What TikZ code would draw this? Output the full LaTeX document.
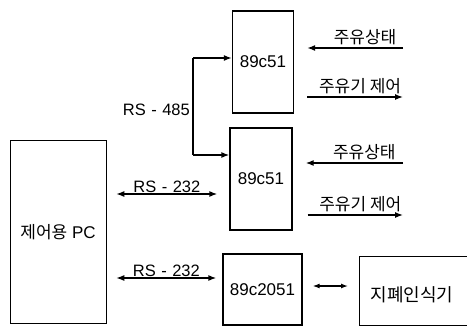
\documentclass[tikz,border=0pt]{standalone}
\usepackage{fontspec}
\setmainfont{Liberation Sans}
\newfontfamily\kr{Noto Sans CJK KR}
\usetikzlibrary{arrows.meta}
\begin{document}
\begin{tikzpicture}[x=1pt,y=-1pt,
  box/.style={draw,line width=1.3pt,inner sep=0pt,font=\fontsize{17}{19}\selectfont},
  conn/.style={line width=1.3pt,-{Latex[length=8pt,width=6pt]}},
  bconn/.style={line width=1.3pt,{Latex[length=8pt,width=6pt]}-{Latex[length=8pt,width=6pt]}},
  lbl/.style={font=\fontsize{16.5}{18}\selectfont,inner sep=1pt},
  klbl/.style={font=\kr\fontsize{17}{19}\selectfont,inner sep=1pt}]
\useasboundingbox (0,0) rectangle (467,327);
\clip (0,0) rectangle (467,327);
% boxes
\node[box,minimum width=61pt,minimum height=102pt] (u1) at (263,62) {89c51};
\node[box,minimum width=62pt,minimum height=102pt] (u2) at (261,179) {89c51};
\node[box,minimum width=96pt,minimum height=183pt,anchor=north west] (pc) at (10,140) {};
\node[font=\fontsize{17}{19}\selectfont] (pct) at (58,232) {{\kr 제어용} PC};
\node[box,minimum width=79pt,minimum height=71pt] (u3) at (262.5,289.5) {89c2051};
\node[box,minimum width=120pt,minimum height=69pt,anchor=north west] (bill) at (359,256) {};
\node[font=\kr\fontsize{18}{20}\selectfont] (billt) at (412,295) {지폐인식기};
% RS-485 bracket
\coordinate (b1) at (193,58);
\coordinate (b2) at (193,155);
\draw[conn] (b1) -- (u1.west |- b1);
\draw[line width=1.3pt] (b1) -- (b2);
\draw[conn] (b2) -- (u2.west |- b2);
\node[lbl,anchor=east] (l485) at (191,110) {RS\,\,-\,\,485};
% RS-232 links
\coordinate (p1) at (pc.east |- 0,194);
\coordinate (p2) at (pc.east |- 0,278);
\draw[bconn] ([xshift=9pt]p1) -- ([xshift=-12pt]u2.west |- p1) node[lbl,midway,above,yshift=0pt] {RS\,\,-\,\,232};
\draw[bconn] ([xshift=9pt]p2) -- ([xshift=-6pt]u3.west |- p2) node[lbl,midway,above,yshift=0pt] {RS\,\,-\,\,232};
% 89c2051 <-> bill
\draw[line width=1.3pt,{Latex[length=7pt,width=5pt]}-{Latex[length=7pt,width=5pt]}] ([xshift=10pt]u3.east |- 0,286) -- ([xshift=-11pt]bill.west |- 0,286);
% right side signals
\coordinate (r1) at (403,48);
\coordinate (r2) at (403,97);
\coordinate (r3) at (403,163);
\coordinate (r4) at (403,215);
\draw[conn] (r1) -- ([xshift=13pt]u1.east |- r1) node[klbl,midway,above,xshift=10pt,yshift=2pt] {주유상태};
\draw[conn] ([xshift=13pt]u1.east |- r2) -- (r2) node[klbl,midway,above,xshift=5pt,yshift=2pt] {주유기 제어};
\draw[conn] (r3) -- ([xshift=13pt]u2.east |- r3) node[klbl,midway,above,xshift=10pt,yshift=2pt] {주유상태};
\draw[conn] ([xshift=15pt]u2.east |- r4) -- (r4) node[klbl,midway,above,xshift=5pt,yshift=2pt] {주유기 제어};
\end{tikzpicture}
\end{document}
